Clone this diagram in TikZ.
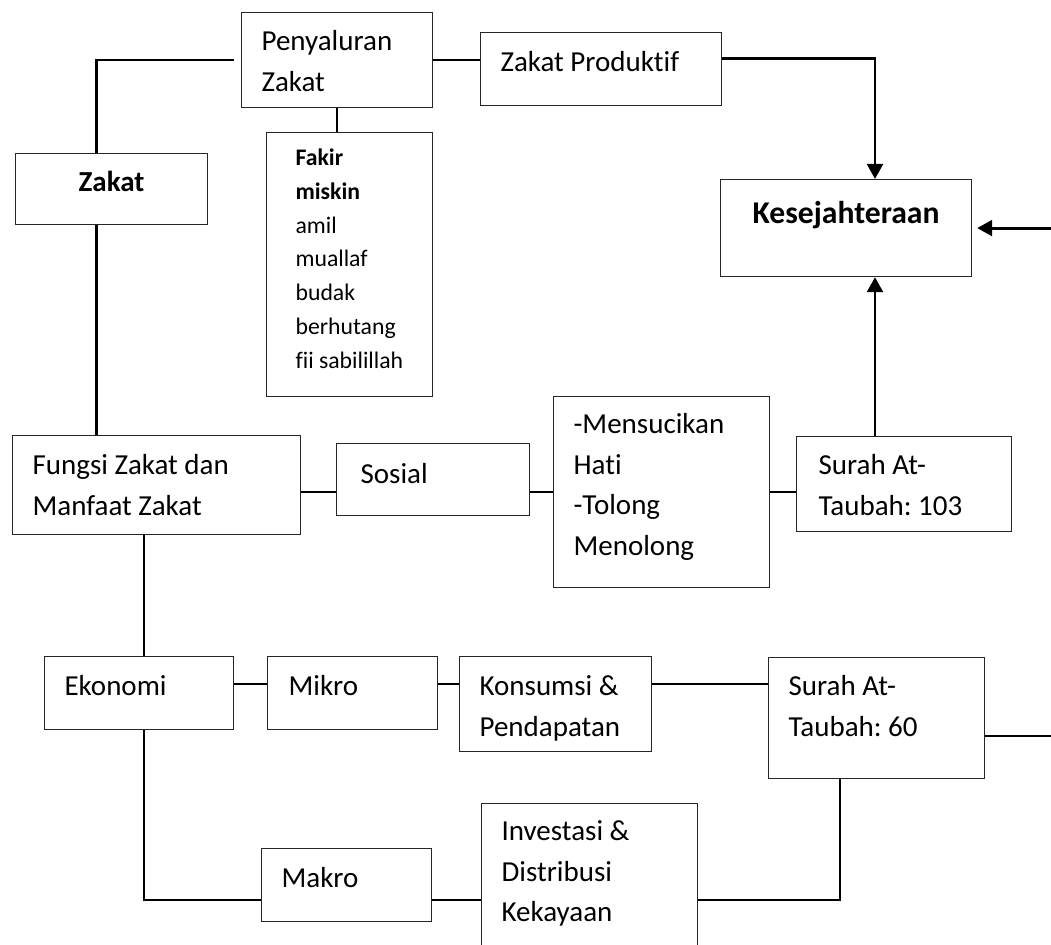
\documentclass[tikz,border=0pt]{standalone}
\usepackage{fontspec}
\setmainfont{Carlito}[Ligatures={TeX,NoCommon}]
\usetikzlibrary{arrows.meta}
\frenchspacing
\newlength\px
\setlength\px{0.3793pt}
\newlength\atas
\newcommand{\isi}[4][]{%
  \parbox[c][#3\px][t]{#2\px}{\raggedright\leftskip=20\px
    \setlength\atas{39\px}#1\rule{0pt}{\atas}#4}}

\begin{document}
\begin{tikzpicture}[
    x=0.3793pt, y=-0.3793pt,
    kotak/.style={
        draw=black!85, line width=0.45pt,
        anchor=north west, inner sep=0pt,
        font=\fontsize{11}{15.4}\selectfont
    },
    garis/.style={line width=0.8pt},
    tebal/.style={line width=1.1pt},
    panah/.style={line width=1.1pt, -{Triangle[length=5.7pt,width=6pt]}}
]
\useasboundingbox[fill=white] (0,0) rectangle (1051,945);
\clip (0,0) rectangle (1051,945);

\node[kotak] (pz) at (241,12) {\isi[\setlength\atas{38\px}]{191}{95}{Penyaluran\\Zakat}};
\node[kotak] (zp) at (480,32) {\isi{241}{73}{Zakat Produktif}};
\node[kotak] (kes) at (720,179) {\isi[\centering\fontsize{12}{15}\selectfont\bfseries\setlength\atas{44\px}]{251}{97}{Kesejahteraan}};
\node[kotak] (zk) at (15,153) {\isi[\centering\bfseries\setlength\atas{38\px}]{192}{71}{Zakat}};
\node[kotak] (fk) at (266,132) {\isi[\fontsize{9}{12.8}\selectfont\leftskip=29\px\setlength\atas{33\px}]{166}{264}{\textbf{Fakir}\\\textbf{miskin}\\amil\\muallaf\\budak\\berhutang\\fii sabilillah}};
\node[kotak] (fz) at (12,435) {\isi{288}{99}{Fungsi Zakat dan\\Manfaat Zakat}};
\node[kotak] (so) at (336,443) {\isi[\leftskip=24\px\setlength\atas{40\px}]{193}{72}{Sosial}};
\node[kotak] (ms) at (553,396) {\isi[\setlength\atas{37\px}]{216}{191}{-Mensucikan\\Hati\\-Tolong\\Menolong}};
\node[kotak] (s103) at (796,436) {\isi[\leftskip=22\px\setlength\atas{38\px}]{215}{95}{Surah At-\\Taubah: 103}};
\node[kotak] (ek) at (44,656) {\isi{189}{73}{Ekonomi}};
\node[kotak] (mk) at (267,656) {\isi[\leftskip=21\px]{170}{73}{Mikro}};
\node[kotak] (ks) at (459,656) {\isi{192}{95}{Konsumsi \&\\Pendapatan}};
\node[kotak] (s60) at (768,657) {\isi[\setlength\atas{38\px}]{216}{121}{Surah At-\\Taubah: 60}};
\node[kotak] (mr) at (261,848) {\isi{170}{73}{Makro}};
\node[kotak] (iv) at (481,803) {\isi[\setlength\atas{37\px}]{216}{180}{Investasi \&\\Distribusi\\Kekayaan}};

\coordinate (xzakat) at (96.5,0);
\coordinate (xeko) at (144,0);
\coordinate (xkes) at (875,0);
\coordinate (xsurah) at (840,0);
\coordinate (tepi) at (1051,0);
\coordinate (yprod) at (0,58.3);
\coordinate (ymikro) at (0,684);
\coordinate (ykanan) at (0,736);
\coordinate (ymakro) at (0,900);

\draw[garis, shorten >=2.6pt] (zk.north -| xzakat) |- (pz.west);
\draw[garis] (zk.south -| xzakat) -- (fz.north -| xzakat);
\draw[garis] (pz.south) -- (pz.south |- fk.north);
\draw[garis] (pz.east) -- (pz.east -| zp.west);
\draw[panah] (zp.east |- yprod) -| (kes.north -| xkes);
\draw[panah, shorten >=1.9pt] (kes.east -| tepi) -- (kes.east);
\draw[panah] (s103.north -| xkes) -- (kes.south -| xkes);
\draw[garis] (fz.east |- ms.west) -- (so.west |- ms.west);
\draw[garis] (so.east |- ms.west) -- (ms.west);
\draw[garis] (ms.east) -- (ms.east -| s103.west);
\draw[garis] (fz.south -| xeko) -- (ek.north -| xeko);
\draw[garis] (ek.east |- ymikro) -- (mk.west |- ymikro);
\draw[garis] (mk.east |- ymikro) -- (ks.west |- ymikro);
\draw[garis] (ks.east |- ymikro) -- (s60.west |- ymikro);
\draw[tebal] (s60.east |- ykanan) -- (tepi |- ykanan);
\draw[garis] (ek.south -| xeko) |- (mr.west |- ymakro);
\draw[garis] (mr.east |- ymakro) -- (iv.west |- ymakro);
\draw[garis] (iv.east |- ymakro) -| (s60.south -| xsurah);
\end{tikzpicture}
\end{document}
